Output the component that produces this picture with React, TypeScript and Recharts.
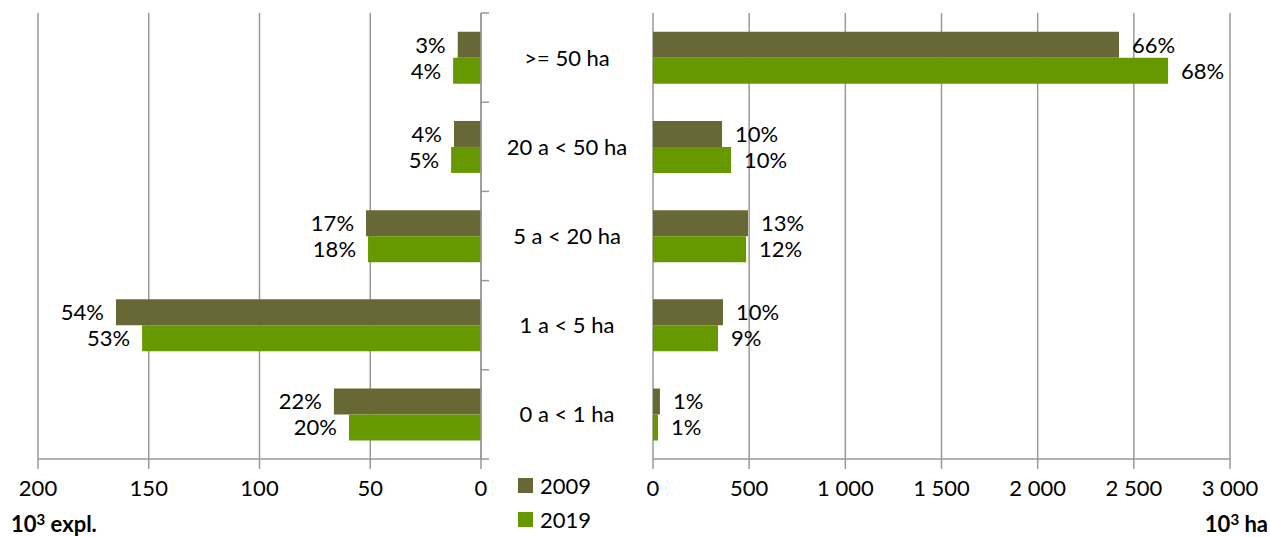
import React from 'react';
import { BarChart, Bar, XAxis, YAxis, CartesianGrid, LabelList } from 'recharts';

// size classes, top to bottom
const sizeClasses = ['>= 50 ha', '20 a < 50 ha', '5 a < 20 ha', '1 a < 5 ha', '0 a < 1 ha'];
const years = ['2009', '2019'];

// holdings, thousands
const farms2009 = [10.5, 12.2, 51.9, 164.8, 66.4];
const farms2019 = [12.6, 13.5, 51.0, 153.0, 59.6];
const farmShare2009 = [3, 4, 17, 54, 22];
const farmShare2019 = [4, 5, 18, 53, 20];

// utilised agricultural area, thousand ha
const area2009 = [2423, 359, 494, 364, 36];
const area2019 = [2678, 406, 484, 338, 26];
const areaShare2009 = [66, 10, 13, 10, 1];
const areaShare2019 = [68, 10, 12, 9, 1];

const farmTicks = [0, 50, 100, 150, 200];
const areaTicks = [0, 500, 1000, 1500, 2000, 2500, 3000];

const COLORS = ['#686837', '#669900'];
const GRID = '#999999';
const FONT = 'Lato, "Open Sans", sans-serif';
const FS = 22;

const TOP = 13;
const PLOT_H = 446;
const BAND = PLOT_H / sizeClasses.length;

const rows = sizeClasses.map((cat, i) => ({
  cat,
  f09: farms2009[i],
  f19: farms2019[i],
  fp09: farmShare2009[i],
  fp19: farmShare2019[i],
  a09: area2009[i],
  a19: area2019[i],
  ap09: areaShare2009[i],
  ap19: areaShare2019[i],
}));

const withSpaces = (v: number) => String(v).replace(/\B(?=(\d{3})+(?!\d))/g, ' ');

// percentage next to the free end of each bar
const shareLabel = (side: 'left' | 'right') => (props: any) => {
  const vb = props.viewBox ?? props;
  const { x, y, width, height } = vb;
  const lo = Math.min(x, x + width);
  const hi = Math.max(x, x + width);
  const tx = side === 'left' ? lo - 12 : hi + 13;
  return (
    <text
      x={tx}
      y={y + height / 2}
      dy="0.36em"
      textAnchor={side === 'left' ? 'end' : 'start'}
      fontSize={FS}
      fontFamily={FONT}
      fill="#000"
    >
      {props.value}%
    </text>
  );
};

// ticks between classes, class name in the middle column
const ClassTick = (props: any) => {
  const { x, y, payload, index } = props;
  const half = BAND / 2;
  const last = index === sizeClasses.length - 1;
  return (
    <g>
      <line x1={x} x2={x + 8} y1={y - half} y2={y - half} stroke={GRID} strokeWidth={1.5} />
      {last && <line x1={x} x2={x + 8} y1={y + half} y2={y + half} stroke={GRID} strokeWidth={1.5} />}
      <text x={x + 86} y={y} dy="0.36em" textAnchor="middle" fontSize={FS} fontFamily={FONT} fill="#000">
        {payload.value}
      </text>
    </g>
  );
};

const axisTick = { fill: '#000', fontSize: FS, fontFamily: FONT };
const unitStyle: React.CSSProperties = {
  position: 'absolute',
  top: 510,
  fontSize: 22,
  fontWeight: 'bold',
  color: '#000',
  lineHeight: '28px',
  whiteSpace: 'nowrap',
};
const supStyle: React.CSSProperties = { fontSize: 15, verticalAlign: 'top', lineHeight: '18px' };

export default function App() {
  return (
    <div style={{ position: 'absolute', left: 0, top: 0, width: 1270, height: 537, background: '#fff', fontFamily: FONT }}>
      <div style={{ position: 'absolute', left: 0, top: 0 }}>
        <BarChart
          width={640}
          height={537}
          data={rows}
          layout="vertical"
          margin={{ top: TOP, right: 149, bottom: 38, left: 38 }}
          barCategoryGap="21%"
          barGap={0}
        >
          <CartesianGrid horizontal={false} stroke={GRID} strokeWidth={1.5} />
          <XAxis
            type="number"
            domain={[0, 200]}
            ticks={farmTicks}
            reversed
            height={40}
            tick={axisTick}
            tickSize={10}
            tickMargin={11}
            axisLine={{ stroke: GRID, strokeWidth: 1.5 }}
            tickLine={{ stroke: GRID, strokeWidth: 1.5 }}
          />
          <YAxis
            type="category"
            dataKey="cat"
            orientation="right"
            width={10}
            tickSize={0}
            tickMargin={0}
            tickLine={false}
            axisLine={{ stroke: GRID, strokeWidth: 1.5 }}
            tick={<ClassTick />}
            interval={0}
          />
          <Bar dataKey="f09" name={years[0]} fill={COLORS[0]} isAnimationActive={false}>
            <LabelList dataKey="fp09" content={shareLabel('left')} />
          </Bar>
          <Bar dataKey="f19" name={years[1]} fill={COLORS[1]} isAnimationActive={false}>
            <LabelList dataKey="fp19" content={shareLabel('left')} />
          </Bar>
        </BarChart>
      </div>

      <div style={{ position: 'absolute', left: 640, top: 0 }}>
        <BarChart
          width={630}
          height={537}
          data={rows}
          layout="vertical"
          margin={{ top: TOP, right: 40, bottom: 38, left: 13 }}
          barCategoryGap="21%"
          barGap={0}
        >
          <CartesianGrid horizontal={false} stroke={GRID} strokeWidth={1.5} />
          <XAxis
            type="number"
            domain={[0, 3000]}
            ticks={areaTicks}
            height={40}
            tick={axisTick}
            tickFormatter={withSpaces}
            tickSize={10}
            tickMargin={11}
            axisLine={{ stroke: GRID, strokeWidth: 1.5 }}
            tickLine={{ stroke: GRID, strokeWidth: 1.5 }}
          />
          <YAxis type="category" dataKey="cat" hide />
          <Bar dataKey="a09" name={years[0]} fill={COLORS[0]} isAnimationActive={false}>
            <LabelList dataKey="ap09" content={shareLabel('right')} />
          </Bar>
          <Bar dataKey="a19" name={years[1]} fill={COLORS[1]} isAnimationActive={false}>
            <LabelList dataKey="ap19" content={shareLabel('right')} />
          </Bar>
        </BarChart>
      </div>

      {/* legend */}
      {years.map((yr, i) => (
        <div
          key={yr}
          style={{ position: 'absolute', left: 518, top: 472 + i * 34, height: 26, display: 'flex', alignItems: 'center', fontSize: FS, color: '#000' }}
        >
          <span style={{ display: 'inline-block', width: 15, height: 15, background: COLORS[i], marginRight: 7 }} />
          {yr}
        </div>
      ))}

      {/* axis units */}
      <div style={{ ...unitStyle, left: 11 }}>
        10<sup style={supStyle}>3</sup> expl.
      </div>
      <div style={{ ...unitStyle, right: 2 }}>
        10<sup style={supStyle}>3</sup> ha
      </div>
    </div>
  );
}
